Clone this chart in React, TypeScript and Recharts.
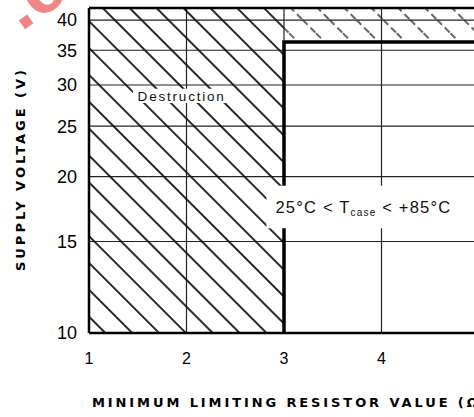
import {
  LineChart,
  Line,
  XAxis,
  YAxis,
  CartesianGrid,
  ReferenceArea,
  ReferenceLine,
} from 'recharts';

// axis ticks
const resistorTicks = [1, 2, 3, 4];
const voltageTicks = [10, 15, 20, 25, 30, 35, 40];

// safe operating boundary (resistor value, supply voltage)
const boundaryR = [3, 3, 5];
const boundaryV = [10, 36.3, 36.3];

// hatched destruction regions
const destructionLeft = { r1: 1, r2: 3, v1: 10, v2: 42.2 };
const destructionTop = { r1: 3, r2: 5, v1: 36.3, v2: 42.2 };

const boundary = boundaryR.map((r, i) => ({ r, v: boundaryV[i] }));

const font = '"Liberation Sans", Arial, sans-serif';
const titleFont = '"DejaVu Sans", sans-serif';

const TempLabel = (props: any) => {
  const { x, y, height } = props.viewBox;
  return (
    <text
      x={x + 9}
      y={y + height / 2 + 6}
      fontSize={16.5}
      letterSpacing={1.2}
      fontFamily={font}
      fill="#111"
    >
      25°C &lt;  T
      <tspan fontSize={10} dy={3}>case</tspan>
      <tspan dy={-3}> &lt; +85°C</tspan>
    </text>
  );
};

export default function App() {
  return (
    <div
      style={{
        position: 'absolute',
        left: 0,
        top: 0,
        width: 474,
        height: 417,
        overflow: 'hidden',
        background: '#fff',
        fontFamily: font,
      }}
    >
      <LineChart
        width={484}
        height={417}
        margin={{ top: 8, right: 5, bottom: 0, left: 0 }}
      >
        <defs>
          <pattern
            id="hatch"
            patternUnits="userSpaceOnUse"
            width="19"
            height="19"
            patternTransform="rotate(45)"
          >
            <line x1="0" y1="9" x2="19" y2="9" stroke="#111" strokeWidth="1.8" />
          </pattern>
          <pattern
            id="hatchLight"
            patternUnits="userSpaceOnUse"
            width="19"
            height="19"
            patternTransform="rotate(45)"
          >
            <line
              x1="0"
              y1="9"
              x2="19"
              y2="9"
              stroke="#333"
              strokeWidth="1.4"
              strokeDasharray="7 4"
            />
          </pattern>
        </defs>
        <CartesianGrid stroke="#222" strokeWidth={1.2} />
        <XAxis
          dataKey="r"
          type="number"
          domain={[1, 5]}
          ticks={resistorTicks}
          allowDataOverflow
          height={84}
          axisLine={{ stroke: '#000', strokeWidth: 2.5 }}
          tickLine={false}
          tickSize={12}
          tickMargin={8}
          tick={{ fill: '#000', fontSize: 16, fontFamily: font }}
        />
        <YAxis
          dataKey="v"
          type="number"
          scale="log"
          domain={[10, 42.2]}
          ticks={voltageTicks}
          allowDataOverflow
          width={89}
          axisLine={{ stroke: '#000', strokeWidth: 2.5 }}
          tickLine={false}
          tickSize={8}
          tickMargin={4}
          tick={{ fill: '#000', fontSize: 18, fontFamily: font }}
        />
        <ReferenceArea
          x1={destructionLeft.r1}
          x2={destructionLeft.r2}
          y1={destructionLeft.v1}
          y2={destructionLeft.v2}
          fill="url(#hatch)"
          fillOpacity={1}
          stroke="none"
        />
        <ReferenceArea
          x1={destructionTop.r1}
          x2={destructionTop.r2}
          y1={destructionTop.v1}
          y2={destructionTop.v2}
          fill="url(#hatchLight)"
          fillOpacity={1}
          stroke="none"
        />
        <ReferenceLine y={42.2} stroke="#000" strokeWidth={2.5} />
        <Line
          data={boundary}
          dataKey="v"
          type="linear"
          stroke="#000"
          strokeWidth={3.5}
          dot={false}
          isAnimationActive={false}
        />
        <ReferenceArea
          x1={1.45}
          x2={2.45}
          y1={27.7}
          y2={29.5}
          fill="#fff"
          fillOpacity={1}
          stroke="none"
          zIndex={1500}
          label={{
            value: 'Destruction',
            position: 'center',
            fill: '#111',
            fontSize: 13.5,
            letterSpacing: 1.8,
            fontFamily: font,
          }}
        />
        <ReferenceArea
          x1={2.82}
          x2={5}
          y1={15.9}
          y2={19.2}
          fill="#fff"
          fillOpacity={1}
          stroke="none"
          zIndex={1500}
          label={<TempLabel />}
        />
        <text
          x={92}
          y={407}
          fontSize={13}
          fontWeight="bold"
          letterSpacing={2.9}
          fontFamily={titleFont}
          fill="#000"
        >
          MINIMUM LIMITING RESISTOR VALUE (Ω)
        </text>
        <text
          x={0}
          y={0}
          transform="translate(25,169) rotate(-90)"
          textAnchor="middle"
          fontSize={13}
          fontWeight="bold"
          letterSpacing={3}
          fontFamily={titleFont}
          fill="#000"
        >
          SUPPLY VOLTAGE (V)
        </text>
        <text
          x={0}
          y={0}
          transform="translate(21,32) rotate(-35)"
          fontSize={72}
          fontWeight="bold"
          fontFamily={font}
          fill="#ef7b7b"
          opacity={0.9}
        >
          .c
        </text>
      </LineChart>
    </div>
  );
}
